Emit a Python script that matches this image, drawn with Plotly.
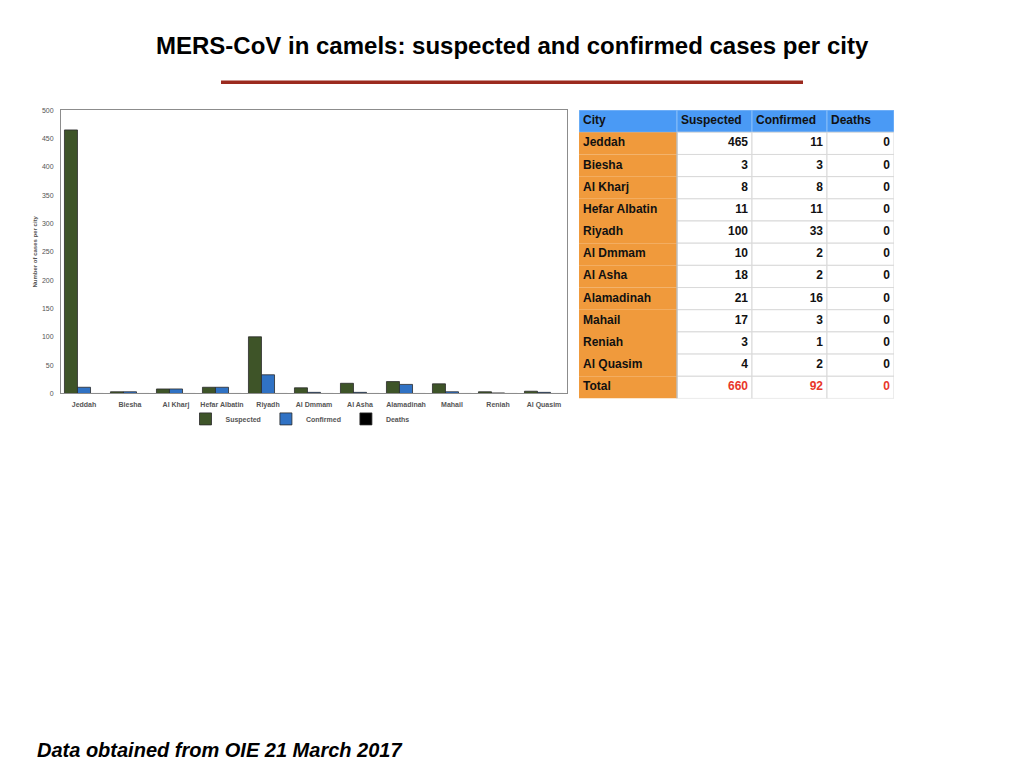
"""MERS-CoV in camels: suspected and confirmed cases per city (chart + table)."""

import plotly.graph_objects as go

CITIES = ['Jeddah', 'Biesha', 'Al Kharj', 'Hefar Albatin', 'Riyadh', 'Al Dmmam',
          'Al Asha', 'Alamadinah', 'Mahail', 'Reniah', 'Al Quasim']
SUSPECTED = [465, 3, 8, 11, 100, 10, 18, 21, 17, 3, 4]
CONFIRMED = [11, 3, 8, 11, 33, 2, 2, 16, 3, 1, 2]
DEATHS = [0, 0, 0, 0, 0, 0, 0, 0, 0, 0, 0]
Y_TICKS = [0, 50, 100, 150, 200, 250, 300, 350, 400, 450, 500]
TABLE_HEADER = ['City', 'Suspected', 'Confirmed', 'Deaths']

GREEN = '#3E5428'
BLUE = '#3072C4'
HEADER_BLUE = '#4A9AF5'
ORANGE = '#F09A3C'
RED = '#E8372A'
GRID = '#D9D9D9'
FONT = 'Liberation Sans'

W, H = 1024, 768
OFF = 8  # page body margin


def px_x(x):
    return (x - OFF) / W


def px_y(y):
    return 1 - (y - OFF) / H


fig = go.Figure()

# ---- bar chart
for name, vals, col in [('Suspected', SUSPECTED, GREEN),
                        ('Confirmed', CONFIRMED, BLUE),
                        ('Deaths', DEATHS, '#000000')]:
    fig.add_trace(go.Bar(
        x=CITIES, y=vals, name=name,
        marker=dict(color=col, line=dict(color='#2A2A2A', width=0.8)),
    ))

# ---- table (drawn on its own hidden axes)
totals = [sum(SUSPECTED), sum(CONFIRMED), sum(DEATHS)]
row_names = CITIES + ['Total']
num_cols = [SUSPECTED + [totals[0]], CONFIRMED + [totals[1]], DEATHS + [totals[2]]]
col_widths = [98, 75, 75, 67]
edges = [0]
for w in col_widths:
    edges.append(edges[-1] + w)
n_rows = len(row_names) + 1  # + header

shapes = []
for c in range(len(col_widths)):
    # header cell
    shapes.append(dict(type='rect', xref='x2', yref='y2', layer='below',
                       x0=edges[c], x1=edges[c + 1], y0=-0.5, y1=0.5,
                       fillcolor=HEADER_BLUE, line=dict(color='#86BDF8', width=1)))
    for r in range(1, n_rows):
        if c == 0:
            shapes.append(dict(type='rect', xref='x2', yref='y2', layer='below',
                               x0=edges[c], x1=edges[c + 1], y0=r - 0.5, y1=r + 0.5,
                               fillcolor=ORANGE, line=dict(width=0)))
        else:
            shapes.append(dict(type='rect', xref='x2', yref='y2', layer='below',
                               x0=edges[c], x1=edges[c + 1], y0=r - 0.5, y1=r + 0.5,
                               fillcolor='white', line=dict(color=GRID, width=1)))
# divider between city column and numbers
shapes.append(dict(type='line', xref='x2', yref='y2', x0=edges[1], x1=edges[1],
                   y0=0.5, y1=n_rows - 0.5, line=dict(color='#B0B0B0', width=1)))

rows_idx = list(range(1, n_rows))
fig.add_trace(go.Scatter(
    x=[edges[c] + 4 for c in range(len(TABLE_HEADER))], y=[0] * len(TABLE_HEADER),
    xaxis='x2', yaxis='y2', mode='text', textposition='middle right',
    text=[f'<b>{t}</b>' for t in TABLE_HEADER], cliponaxis=False, showlegend=False,
    textfont=dict(family=FONT, size=12, color='#111111'), hoverinfo='skip',
))
fig.add_trace(go.Scatter(
    x=[edges[0] + 4] * len(row_names), y=rows_idx,
    xaxis='x2', yaxis='y2', mode='text', textposition='middle right',
    text=[f'<b>{t}</b>' for t in row_names], cliponaxis=False, showlegend=False,
    textfont=dict(family=FONT, size=12, color='#111111'), hoverinfo='skip',
))
num_colors = ['#111111'] * (len(row_names) - 1) + [RED]
for i, vals in enumerate(num_cols):
    fig.add_trace(go.Scatter(
        x=[edges[i + 2] - 4] * len(vals), y=rows_idx,
        xaxis='x2', yaxis='y2', mode='text', textposition='middle left',
        text=[f'<b>{v}</b>' for v in vals], cliponaxis=False, showlegend=False,
        textfont=dict(family=FONT, size=12, color=num_colors), hoverinfo='skip',
    ))

shapes.append(dict(type='line', xref='paper', yref='paper',
                   x0=px_x(221), x1=px_x(803), y0=px_y(79), y1=px_y(79),
                   line=dict(color='#9B2A1F', width=3.5)))

fig.update_layout(
    width=W, height=H,
    margin=dict(l=0, r=0, t=0, b=0),
    paper_bgcolor='white',
    plot_bgcolor='white',
    font=dict(family=FONT),
    barmode='group',
    bargap=0.15,
    bargroupgap=0,
    xaxis=dict(
        domain=[px_x(61), px_x(567)],
        showline=True, linecolor='#8C8C8C', linewidth=1, mirror=True,
        ticks='outside', ticklen=4, tickcolor='rgba(0,0,0,0)',
        tickfont=dict(family=FONT, size=7, color='#555555', weight='bold'),
        showgrid=False, fixedrange=True,
    ),
    yaxis=dict(
        domain=[px_y(393), px_y(107)],
        range=[0, 500], tickvals=Y_TICKS,
        showline=True, linecolor='#8C8C8C', linewidth=1, mirror=True,
        ticks='outside', ticklen=5, tickcolor='rgba(0,0,0,0)',
        tickfont=dict(family=FONT, size=7, color='#555555'),
        showgrid=False, zeroline=False, fixedrange=True,
        title=dict(text='<b>Number of cases per city</b>',
                   font=dict(family=FONT, size=6, color='#555555'), standoff=3),
    ),
    xaxis2=dict(domain=[px_x(579), px_x(894)], range=[0, edges[-1]], anchor='y2',
                visible=False, fixedrange=True),
    yaxis2=dict(domain=[px_y(398), px_y(107)], range=[n_rows - 0.5, -0.5], anchor='x2',
                visible=False, fixedrange=True),
    legend=dict(
        orientation='h', x=px_x(300), xanchor='center', y=px_y(404), yanchor='top',
        font=dict(family=FONT, size=7, color='#555555', weight='bold'),
        itemwidth=30, bgcolor='rgba(0,0,0,0)',
    ),
    annotations=[
        dict(text='<b>MERS-CoV in camels: suspected and confirmed cases per city</b>',
             x=px_x(512), y=px_y(42), xref='paper', yref='paper', showarrow=False,
             xanchor='center', yanchor='middle',
             font=dict(family=FONT, size=24, color='black')),
        dict(text='<b><i>Data obtained from OIE 21 March 2017</i></b>',
             x=px_x(35), y=px_y(753), xref='paper', yref='paper', showarrow=False,
             xanchor='left', yanchor='middle',
             font=dict(family=FONT, size=20, color='black')),
    ],
    shapes=shapes,
)

fig.write_html('out.html')
